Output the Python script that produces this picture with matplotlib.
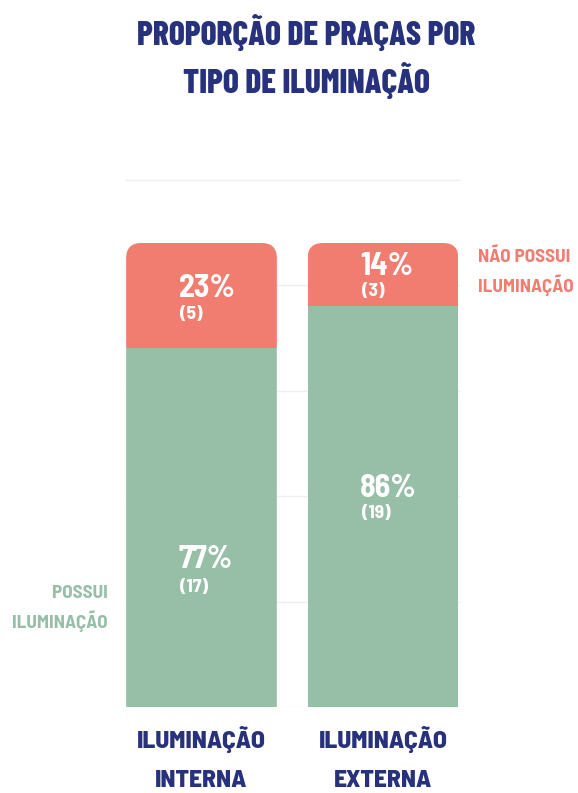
import matplotlib
matplotlib.use('Agg')
import matplotlib.pyplot as plt
from matplotlib.patches import FancyBboxPatch

# data
categorias = [('ILUMINAÇÃO', 'INTERNA'), ('ILUMINAÇÃO', 'EXTERNA')]
possui = [17, 19]       # number of squares with lighting
nao_possui = [5, 3]     # without lighting
possui_pct = ['77%', '86%']
nao_possui_pct = ['23%', '14%']
grid_levels = [0, 5, 10, 15, 20, 25]

verde = '#97bfa8'
salmao = '#f07d70'
azul = '#27317c'
fonte = ['Barlow Semi Condensed', 'DejaVu Sans']
fonte_titulo = ['Barlow Condensed', 'DejaVu Sans']

fig = plt.figure(figsize=(5.78, 7.93), dpi=100)
ax = fig.add_axes([100/578, 86/793, 380/578, 537/793])
ax.set_xlim(-0.559, 1.534)
ax.set_ylim(0, 25.46)
ax.axis('off')

x = [0, 1]
w = 0.83
ax.hlines(grid_levels, -0.421, 1.424, color='#efefef', linewidth=1, zorder=0)

b1 = ax.bar(x, possui, width=w, color=verde, zorder=2)
b2 = ax.bar(x, nao_possui, bottom=possui, width=w, color=salmao, zorder=2)

# rounded top corners: clip each bar with a rounded box
for i in range(len(x)):
    total = possui[i] + nao_possui[i]
    clip = FancyBboxPatch((x[i] - w/2, -3), w, total + 3,
                          boxstyle='round,pad=0,rounding_size=0.085',
                          mutation_aspect=8.4, transform=ax.transData,
                          facecolor='none', edgecolor='none')
    ax.add_patch(clip)
    b1[i].set_clip_path(clip)
    b2[i].set_clip_path(clip)

# value labels (baselines)
y_verde = [(6.59, 5.45), (9.96, 8.96)]
y_salmao = [(19.44, 18.40), (20.48, 19.49)]
for i in range(len(x)):
    for txt, yy, fs in [(possui_pct[i], y_verde[i][0], 23),
                        ('(%d)' % possui[i], y_verde[i][1], 14),
                        (nao_possui_pct[i], y_salmao[i][0], 23),
                        ('(%d)' % nao_possui[i], y_salmao[i][1], 14)]:
        dx = -0.127 if fs > 20 else -0.118
        ax.text(x[i] + dx, yy, txt, color='white', fontsize=fs, fontweight='bold',
                family=fonte, ha='left', va='baseline', zorder=3)

# category labels
for i in range(len(x)):
    ax.text(x[i], -1.944, categorias[i][0], color=azul, fontsize=18.3, fontweight=800,
            family=fonte, ha='center', va='baseline', clip_on=False)
    ax.text(x[i], -3.79, categorias[i][1], color=azul, fontsize=18.3, fontweight=800,
            family=fonte, ha='center', va='baseline', clip_on=False)

# side legends
fig.text(108/578, 1 - 598/793, 'POSSUI', color=verde, fontsize=13.8,
         fontweight='bold', family=fonte, ha='right', va='baseline')
fig.text(108/578, 1 - 628/793, 'ILUMINAÇÃO', color=verde, fontsize=13.8,
         fontweight='bold', family=fonte, ha='right', va='baseline')
fig.text(478/578, 1 - 262/793, 'NÃO POSSUI', color=salmao, fontsize=13.8,
         fontweight='bold', family=fonte, ha='left', va='baseline')
fig.text(478/578, 1 - 292/793, 'ILUMINAÇÃO', color=salmao, fontsize=13.8,
         fontweight='bold', family=fonte, ha='left', va='baseline')

# title
fig.text(306/578, 1 - 45/793, 'PROPORÇÃO DE PRAÇAS POR', color=azul,
         fontsize=24, fontweight=800, family=fonte_titulo, ha='center', va='baseline')
fig.text(306/578, 1 - 93/793, 'TIPO DE ILUMINAÇÃO', color=azul,
         fontsize=24, fontweight=800, family=fonte_titulo, ha='center', va='baseline')

plt.savefig('out.png', dpi=100)
